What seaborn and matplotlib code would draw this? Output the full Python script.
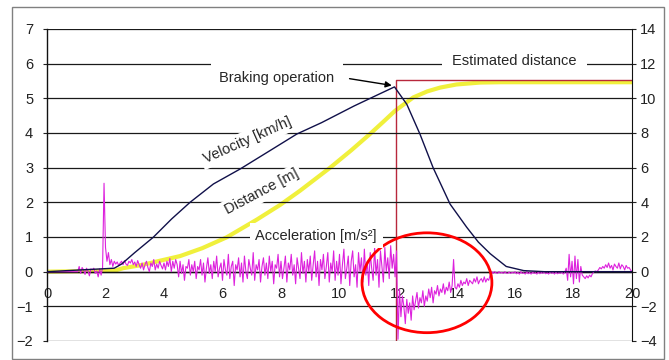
import numpy as np
import matplotlib
matplotlib.use("Agg")
import matplotlib.pyplot as plt
from matplotlib.patches import Ellipse, Rectangle
import seaborn as sns

# --- data ---
# velocity [km/h] (left axis)
vel_t = [0, 2.3, 2.55, 3.0, 3.63, 4.26, 4.89, 5.69, 6.6, 7.62, 8.54, 9.39, 10.5, 11.2, 11.88,
         12.3, 12.75, 13.2, 13.78, 14.35, 14.75, 15.15, 15.7, 16.3, 17.0, 20]
vel_v = [0, 0.1, 0.22, 0.55, 0.99, 1.52, 2.0, 2.53, 2.96, 3.49, 3.97, 4.3, 4.78, 5.06, 5.33,
         4.83, 3.97, 3.0, 1.95, 1.28, 0.85, 0.52, 0.15, 0.03, 0.0, 0.0]

# distance [m] (right axis)
dist_t = [0, 2.3, 2.6, 3.29, 3.86, 4.55, 5.3, 6.14, 7.17, 7.97, 8.65, 9.68, 10.4, 11.04,
          11.5, 11.9, 12.52, 13.0, 13.44, 14.0, 14.8, 15.5, 20]
dist_m = [0, 0.05, 0.2, 0.4, 0.63, 0.9, 1.35, 1.98, 3.0, 3.85, 4.67, 6.0, 7.0, 7.94,
          8.65, 9.28, 10.05, 10.4, 10.62, 10.8, 10.91, 10.93, 10.93]

# acceleration [m/s2] (left axis), one row per second, sampled every 0.05 s
acc_t0, acc_dt = 0.0, 0.05
acc = [
    0, 0, 0, 0, 0, 0, 0, 0, 0, 0, 0, 0, 0, 0, 0, 0, 0, 0, 0, 0,
    0, 0, 0.15, -0.05, 0.12, 0.05, -0.08, 0.1, 0.02, -0.12, 0.08, 0.05, 0.1, -0.05, 0.02, -0.15, 0.08, -0.1, 0.12, 2.55,
    0.7, 0.3, 0.55, 0.2, 0.35, 0.15, 0.3, 0.22, 0.28, 0.18, 0.25, 0.3, 0.2, 0.32, 0.22, 0.18, 0.3, 0.25, 0.35, 0.2,
    0.28, 0.15, 0.32, 0.2, 0.1, 0.25, 0.05, 0.2, 0.3, 0.12, 0.0, 0.25, 0.15, 0.35, 0.05, 0.22, 0.1, 0.3, 0.18, 0.08,
    0.25, 0.05, 0.3, 0.15, 0.38, 0.0, 0.3, 0.1, 0.35, 0.2, -0.15, 0.3, -0.05, 0.2, -0.25, 0.15, 0.1, 0.35, -0.1, 0.2,
    0.0, 0.3, -0.2, 0.15, 0.05, 0.35, -0.1, 0.25, -0.3, 0.1, 0.4, -0.05, 0.2, -0.2, 0.3, 0.0, 0.45, -0.15, 0.1, 0.25,
    -0.25, 0.35, 0.05, -0.1, 0.5, -0.2, 0.15, 0.3, -0.4, 0.2, 0.05, 0.4, -0.15, 0.25, -0.3, 0.45, 0.0, -0.2, 0.35, 0.1,
    -0.1, 0.55, -0.25, 0.2, 0.05, 0.35, -0.3, 0.15, 0.4, -0.1, 0.25, -0.2, 0.45, 0.0, 0.3, -0.35, 0.2, 0.1, 0.5, -0.15,
    0.3, -0.2, 0.1, 0.45, -0.3, 0.25, 0.05, 0.5, -0.1, 0.2, -0.35, 0.4, 0.1, -0.2, 0.55, -0.05, 0.3, -0.3, 0.35, 0.0,
    0.45, -0.25, 0.2, 0.6, -0.15, 0.3, -0.4, 0.35, 0.05, 0.5, -0.2, 0.15, 0.55, -0.3, 0.25, 0.0, 0.6, -0.25, 0.3, -0.1,
    0.5, -0.35, 0.2, 0.65, -0.2, 0.1, 0.45, -0.4, 0.3, 0.6, -0.15, 0.2, -0.45, 0.55, 0.0, 0.4, -0.3, 0.65, -0.1, 0.3,
    -0.4, 0.55, 0.1, -0.25, 0.7, -0.1, 0.35, -0.45, 0.6, 0.15, -0.3, 0.7, 0.0, 0.4, -0.2, 0.75, 0.1, 0.5, -0.15, 0.6,
    -1.95, -0.5, -1.3, -0.7, -1.0, -1.5, -0.8, -1.2, -0.9, -1.4, -0.7, -1.1, -0.85, -0.6, -1.05, -0.75, -0.9, -0.55, -1.0, -0.7,
    -0.85, -0.5, -0.75, -0.45, -0.9, -0.55, -0.65, -0.4, -0.7, -0.5, -0.6, -0.35, -0.65, -0.45, -0.55, -0.3, -0.6, -0.4, 0.35, -0.45,
    -0.5, -0.35, -0.45, -0.25, -0.4, -0.3, -0.35, -0.2, -0.4, -0.25, -0.3, -0.35, -0.2, -0.3, -0.15, -0.35, -0.25, -0.2, -0.3, -0.15,
    -0.3, -0.2, -0.25, -0.1, 0.0, -0.05, 0.0, -0.03, -0.05, 0.0, -0.04, -0.02, -0.05, 0.0, -0.04, -0.05, -0.01, -0.05, -0.02, -0.04,
    0.0, -0.06, -0.02, -0.07, 0.0, -0.05, -0.03, -0.07, 0.0, -0.06, -0.02, -0.07, -0.01, -0.05, -0.03, -0.07, 0.0, -0.06, -0.02, -0.05,
    0.0, -0.06, -0.03, -0.07, 0.0, -0.05, -0.02, -0.07, 0.0, -0.06, -0.03, -0.05, 0.0, -0.07, -0.02, 0.1, -0.25, 0.5, -0.15, 0.3,
    -0.35, 0.45, -0.2, 0.35, -0.3, 0.15, -0.1, -0.15, -0.2, -0.12, -0.18, -0.1, -0.15, -0.05, 0.0, 0.02, 0.0, 0.05, 0.12, 0.08,
    0.15, 0.1, 0.2, 0.12, 0.25, 0.1, 0.18, 0.05, 0.22, 0.15, 0.1, 0.25, 0.08, 0.2, 0.15, 0.05, 0.18, 0.1, 0.12, 0.05,
    0.0,
]
acc_t = acc_t0 + acc_dt * np.arange(len(acc))

brake_time = 11.93
estimated_distance = 11.05

sns.set_style("white")
plt.rcParams["font.family"] = ["Liberation Sans", "DejaVu Sans"]

fig = plt.figure(figsize=(6.69, 3.6), dpi=100)
ax = fig.add_axes([47/669, 19/360, 585/669, 312/360])
ax2 = ax.twinx()
ax.set_zorder(ax2.get_zorder() + 1)
ax.patch.set_visible(False)

# right axis: distance + estimated distance
sns.lineplot(x=dist_t, y=dist_m, ax=ax2, color="#f0f03c", linewidth=3)
sns.lineplot(x=[brake_time, brake_time, 20], y=[-4, estimated_distance, estimated_distance],
             ax=ax2, color="#b8283c", linewidth=1, estimator=None, sort=False)

# left axis: velocity + acceleration
sns.lineplot(x=acc_t, y=acc, ax=ax, color="#dd22dd", linewidth=0.8, zorder=3)
sns.lineplot(x=vel_t, y=vel_v, ax=ax, color="#10104a", linewidth=1, zorder=4)

ax.set_xlim(0, 20)
ax.set_ylim(-2, 7)
ax.set_xticks(range(0, 21, 2))
ax.set_yticks(range(-2, 8))
ax.set_xlabel("")
ax.set_ylabel("")
ax.tick_params(axis="x", direction="in", length=3, pad=11, labelsize=10.5, colors="#222")
ax.tick_params(axis="y", direction="out", length=3, pad=7, labelsize=10.5, colors="#222")
ax.spines["bottom"].set_position(("data", 0))
ax.spines["top"].set_visible(False)
ax.spines["right"].set_visible(False)
for s in ["left", "bottom"]:
    ax.spines[s].set_color("#111")
    ax.spines[s].set_linewidth(1)
ax.grid(axis="y", color="#1a1a1a", linewidth=0.9)
ax.grid(axis="x", visible=False)
ax.set_axisbelow(True)

ax2.set_ylim(-4, 14)
ax2.set_yticks(range(-4, 15, 2))
ax2.set_ylabel("")
ax2.tick_params(axis="y", direction="out", length=3, pad=3, labelsize=10.5, colors="#222")
for s in ["left", "top", "bottom"]:
    ax2.spines[s].set_visible(False)
ax2.spines["right"].set_color("#111")
ax2.grid(False)

ax.text(7.86, 5.6, "Braking operation", fontsize=10.5, ha="center", va="center",
        bbox=dict(facecolor="white", edgecolor="none", boxstyle="square,pad=0.6"), zorder=6)
ax.text(15.97, 6.08, "Estimated distance", fontsize=10.5, ha="center", va="center",
        bbox=dict(facecolor="white", edgecolor="none", boxstyle="square,pad=0.7"), zorder=6)
ax.text(6.84, 3.78, "Velocity [km/h]", fontsize=10.5, ha="center", va="center", rotation=24,
        rotation_mode="anchor", bbox=dict(facecolor="white", edgecolor="none", boxstyle="square,pad=0.2"), zorder=6)
ax.text(7.35, 2.3, "Distance [m]", fontsize=10.5, ha="center", va="center", rotation=28,
        rotation_mode="anchor", bbox=dict(facecolor="white", edgecolor="none", boxstyle="square,pad=0.2"), zorder=6)
ax.text(9.2, 1.04, "Acceleration [m/s²]", fontsize=10.5, ha="center", va="center",
        bbox=dict(facecolor="white", edgecolor="none", boxstyle="square,pad=0.4"), zorder=6)

ax.annotate("", xy=(brake_time - 0.05, 5.36), xytext=(10.25, 5.58),
            arrowprops=dict(arrowstyle="-|>", color="black", lw=1, mutation_scale=9), zorder=7)

ax.add_patch(Ellipse((12.99, -0.32), 4.44, 2.88, fill=False, edgecolor="red", linewidth=2, zorder=5))

fig.patches.append(Rectangle((12/669, 1/360), 652/669, 352/360, transform=fig.transFigure,
                             fill=False, edgecolor="#808080", linewidth=1))

fig.savefig("out.png", dpi=100, facecolor="white")
